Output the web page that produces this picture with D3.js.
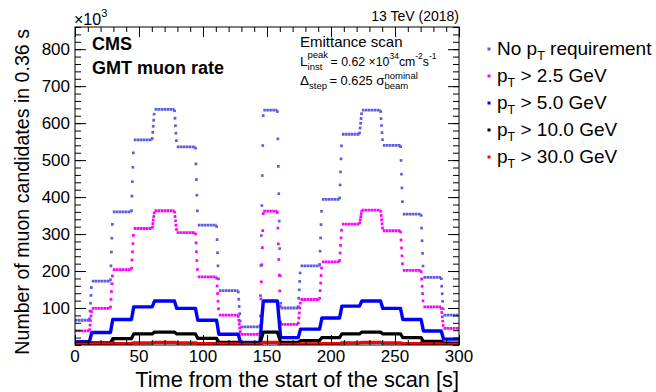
<!DOCTYPE html>
<html>
<head>
<meta charset="utf-8">
<script src="https://cdn.jsdelivr.net/npm/d3@7"></script>
<style>
  body { margin: 0; background: #fff; }
  svg { font-family: "Liberation Sans", Arial, Helvetica, sans-serif; }
</style>
</head>
<body>
<svg id="chart" width="656" height="392"></svg>
<script>
// times (s) where the beam separation changes, and how long each change lasts
const stepTimes = [12.2, 28.6, 45.0, 61.2, 78.6, 95.0, 111.5, 128.4, 145.8, 159.4, 175.3, 192.0, 207.6, 223.2, 239.6, 255.2, 271.3, 287.0];
const rampTimes = [1.8, 1.8, 1.8, 1.8, 1.8, 1.8, 1.8, 1.8, 2.6, 2.6, 1.8, 1.8, 1.8, 1.8, 1.8, 1.8, 1.8, 1.8];

// plateau rates, x10^3 muon candidates per 0.36 s
const rateNoPt  = [67, 173, 360, 555, 637, 536, 324, 147, 49, 635, 100, 214, 394, 570, 635, 540, 354, 183, 81];
const ratePt2p5 = [38, 99, 204, 315, 363, 304, 184, 81, 29, 362, 56, 123, 225, 327, 365, 309, 202, 103, 45];
const ratePt5   = [9, 34, 69, 103, 119, 99, 67, 29, 7, 119, 20, 43, 73, 105, 119, 99, 69, 38, 16];
const ratePt10  = [4, 6, 17, 30, 35, 30, 18, 7, 3, 35, 7, 12, 20, 30, 35, 30, 20, 10, 5];
const ratePt30  = [2, 3, 4, 6, 7, 6, 4, 3, 1.5, 7, 2, 3, 4, 6, 7, 6, 4, 3, 2];

const seriesNames = ["No p_T requirement", "p_T > 2.5 GeV", "p_T > 5.0 GeV", "p_T > 10.0 GeV", "p_T > 30.0 GeV"];
const xTicks = [0, 50, 100, 150, 200, 250, 300];
const yTicks = [100, 200, 300, 400, 500, 600, 700, 800];

const binWidth = 0.36;
const series = [
  { name: seriesNames[0], rates: rateNoPt,  color: "#5b5de0", dotted: true },
  { name: seriesNames[1], rates: ratePt2p5, color: "#ff00ff", dotted: true },
  { name: seriesNames[2], rates: ratePt5,   color: "#0000ff", dotted: false, width: 3.4 },
  { name: seriesNames[3], rates: ratePt10,  color: "#000000", dotted: false, width: 3.2 },
  { name: seriesNames[4], rates: ratePt30,  color: "#ff0000", dotted: false, width: 3.2 }
];

const svg = d3.select("#chart");
const padL = 75, padR = 459, padT = 27, padB = 345;

const x = d3.scaleLinear().domain([0, 300]).range([padL, padR]);
const y = d3.scaleLinear().domain([0, 860]).range([padB, padT]);

svg.append("clipPath").attr("id", "frame")
  .append("rect").attr("x", padL).attr("y", padT).attr("width", padR - padL).attr("height", padB - padT);

const plot = svg.append("g").attr("clip-path", "url(#frame)");

// plateau i runs from the end of ramp i-1 to the start of ramp i
function plateaus(rates) {
  return rates.map((r, i) => ({
    t0: i === 0 ? 0 : stepTimes[i - 1] + rampTimes[i - 1] / 2,
    t1: i === rates.length - 1 ? 300 : stepTimes[i] - rampTimes[i] / 2,
    r: r
  }));
}

series.forEach(s => {
  const p = plateaus(s.rates);
  if (!s.dotted) {
    const pts = [];
    p.forEach(d => { pts.push([d.t0, d.r]); pts.push([d.t1, d.r]); });
    plot.append("path")
      .attr("d", d3.line().x(d => x(d[0])).y(d => y(d[1]))(pts))
      .attr("fill", "none")
      .attr("stroke", s.color)
      .attr("stroke-width", s.width)
      .attr("stroke-linejoin", "round");
    return;
  }
  // flat parts: a dense row of markers
  plot.selectAll(null).data(p).enter().append("line")
    .attr("x1", d => x(d.t0)).attr("x2", d => x(d.t1))
    .attr("y1", d => y(d.r)).attr("y2", d => y(d.r))
    .attr("stroke", s.color)
    .attr("stroke-width", 2.8)
    .attr("stroke-dasharray", "2.6 0.4");
  // ramps: one marker every 0.36 s
  const ramps = p.slice(0, -1).map((d, i) => ({ a: d, b: p[i + 1], n: rampTimes[i] / binWidth }));
  plot.selectAll(null).data(ramps).enter().append("line")
    .attr("x1", d => x(d.a.t1)).attr("x2", d => x(d.b.t0))
    .attr("y1", d => y(d.a.r)).attr("y2", d => y(d.b.r))
    .attr("stroke", s.color)
    .attr("stroke-width", 2.7)
    .attr("stroke-dasharray", d => {
      const len = Math.hypot(x(d.b.t0) - x(d.a.t1), y(d.b.r) - y(d.a.r));
      const gap = Math.max(len / d.n - 2.7, 0.4);
      return "2.7 " + gap;
    });
});

// axes, ROOT style: ticks inside on all four sides
const axisG = svg.append("g");
const minorX = d3.range(0, 301, 10), minorY = d3.range(0, 861, 20);

function ticks(axis, tr, vals, size) {
  axisG.append("g").attr("transform", tr)
    .call(axis.tickValues(vals).tickSize(size).tickFormat(""))
    .call(g => g.select(".domain").remove())
    .selectAll("line").attr("stroke", "#000");
}
ticks(d3.axisBottom(x), `translate(0,${padB})`, minorX, -5);
ticks(d3.axisBottom(x), `translate(0,${padB})`, xTicks, -10);
ticks(d3.axisTop(x), `translate(0,${padT})`, minorX, -5);
ticks(d3.axisTop(x), `translate(0,${padT})`, xTicks, -10);
ticks(d3.axisLeft(y), `translate(${padL},0)`, minorY, -6);
ticks(d3.axisLeft(y), `translate(${padL},0)`, yTicks, -11);
ticks(d3.axisRight(y), `translate(${padR},0)`, minorY, -6);
ticks(d3.axisRight(y), `translate(${padR},0)`, yTicks, -11);

axisG.append("rect")
  .attr("x", padL).attr("y", padT).attr("width", padR - padL).attr("height", padB - padT)
  .attr("fill", "none").attr("stroke", "#000").attr("stroke-width", 1);

axisG.selectAll(".xl").data(xTicks).enter().append("text")
  .attr("x", d => x(d)).attr("y", 362)
  .attr("text-anchor", "middle").attr("font-size", 17).text(d => d);
axisG.selectAll(".yl").data(yTicks).enter().append("text")
  .attr("x", 70).attr("y", d => y(d)).attr("dy", "0.36em")
  .attr("text-anchor", "end").attr("font-size", 17).text(d => d);

// x10^3 multiplier
const mult = svg.append("text").attr("x", 74).attr("y", 25).attr("font-size", 16);
mult.append("tspan").text("\u00d710");
mult.append("tspan").attr("dy", -8).attr("font-size", 11).text("3");

svg.append("text")
  .attr("x", padR).attr("y", 387).attr("text-anchor", "end").attr("font-size", 21.8)
  .text("Time from the start of the scan [s]");
svg.append("text")
  .attr("transform", `translate(29,${padT + 2}) rotate(-90)`)
  .attr("text-anchor", "end").attr("font-size", 19.6)
  .text("Number of muon candidates in 0.36 s");

svg.append("text").attr("x", padR).attr("y", 21).attr("text-anchor", "end")
  .attr("font-size", 14).text("13 TeV (2018)");

svg.append("text").attr("x", 92).attr("y", 50).attr("font-size", 18)
  .attr("font-weight", "bold").text("CMS");
svg.append("text").attr("x", 92).attr("y", 74).attr("font-size", 18)
  .attr("font-weight", "bold").text("GMT muon rate");

// annotation: one text per line, scripts as shifted tspans
function rich(px, py, parts) {
  const t = svg.append("text").attr("x", px).attr("y", py);
  let shift = 0;
  parts.forEach(([str, size, dy]) => {
    t.append("tspan").attr("dy", dy - shift).attr("font-size", size).text(str);
    shift = dy;
  });
  return t;
}
svg.append("text").attr("x", 300).attr("y", 47).attr("font-size", 15).text("Emittance scan");

// L^peak_inst: the two scripts are stacked, so "inst" is a separate text under "peak"
const lLine = rich(300, 66, [["L", 13.5, 0], ["peak", 9.5, -8],
  ["\u2009= 0.62 \u00d710", 12.3, 0], ["34", 8.5, -7], ["cm", 12.3, 0], ["-2", 8.5, -7], ["s", 12.3, 0], ["-1", 8.5, -7]]);
const lW = lLine.select("tspan").node().getComputedTextLength();
svg.append("text").attr("x", 300 + lW).attr("y", 70).attr("font-size", 9.5).text("inst");

const dLine = rich(300, 85, [["\u0394", 13.5, 0], ["step", 9.5, 4], ["\u2009= 0.625 ", 12.8, 0], ["\u03c3", 13.5, 0], ["beam", 9.5, 4]]);
const sig = dLine.selectAll("tspan").nodes()[3];
const sigEnd = sig.getStartPositionOfChar(0).x + sig.getComputedTextLength();
svg.append("text").attr("x", sigEnd).attr("y", 78.5).attr("font-size", 9.5).text("nominal");

// legend
const leg = svg.append("g");
const legY = [55, 82, 109, 136, 163];
series.forEach((s, i) => {
  leg.append("rect").attr("x", 487.5).attr("y", legY[i] - 7.5).attr("width", 3).attr("height", 3)
    .attr("fill", s.color);
  const parts = s.name.split("p_T");
  const t = leg.append("text").attr("x", 497).attr("y", legY[i]).attr("font-size", 19);
  t.append("tspan").text(parts[0] + "p");
  t.append("tspan").attr("dy", 5).attr("font-size", 12.5).text("T");
  t.append("tspan").attr("dy", -5).text(parts[1]);
});
</script>
</body>
</html>
